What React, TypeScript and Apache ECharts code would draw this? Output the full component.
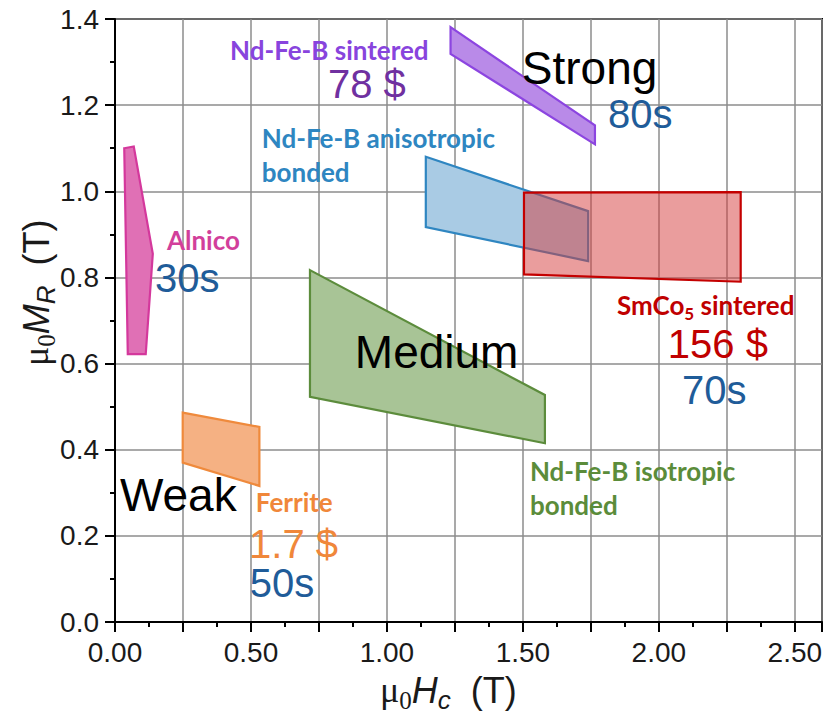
import React, { useEffect, useRef } from "react";
import * as echarts from "echarts";

// Polygon regions (μ0Hc [T], μ0MR [T])
const alnico = [[0.034, 1.100], [0.069, 1.104], [0.139, 0.855], [0.113, 0.622], [0.047, 0.622]];
const ndfebSintered = [[1.234, 1.381], [1.765, 1.153], [1.765, 1.109], [1.234, 1.319]];
const ndfebAniso = [[1.143, 1.080], [1.740, 0.954], [1.740, 0.838], [1.143, 0.917]];
const smco5 = [[1.504, 0.997], [2.301, 0.998], [2.301, 0.790], [1.504, 0.807]];
const ndfebIso = [[0.717, 0.817], [1.581, 0.527], [1.581, 0.415], [0.717, 0.523]];
const ferrite = [[0.249, 0.486], [0.531, 0.453], [0.531, 0.316], [0.249, 0.370]];

// Annotations
const labelTexts = [
  "Nd-Fe-B sintered", "78 $", "Strong", "80s",
  "Nd-Fe-B anisotropic", "bonded",
  "Alnico", "30s",
  "{b|SmCo}{s|5}{b| sintered}", "156 $", "70s",
  "Medium", "Nd-Fe-B isotropic", "bonded",
  "Weak", "Ferrite", "1.7 $", "50s",
];
const labelX = [0.423, 0.783, 1.496, 1.813, 0.540, 0.540, 0.191, 0.147, 1.846, 2.033, 2.085, 0.882, 1.526, 1.526, 0.018, 0.518, 0.493, 0.496];
const labelY = [1.329, 1.248, 1.287, 1.180, 1.123, 1.044, 0.886, 0.798, 0.731, 0.645, 0.538, 0.626, 0.350, 0.271, 0.295, 0.278, 0.182, 0.091];
const labelKind = ["tag", "num", "word", "num", "tag", "tag", "tag", "num", "rich", "num", "num", "word", "tag", "tag", "word", "tag", "num", "num"];
const labelColor = [
  "#8844dd", "#7030a0", "#000000", "#1f5c99",
  "#2e86c1", "#2e86c1",
  "#d23f9b", "#1f5c99",
  "#c00000", "#c00000", "#1f5c99",
  "#000000", "#5b8c3a", "#5b8c3a",
  "#000000", "#f0873a", "#f0873a", "#1f5c99",
];

const polys = [
  { data: ndfebAniso, fill: "#a9cbe4", stroke: "#2f86c1" },
  { data: smco5, fill: "rgba(214,60,60,0.5)", stroke: "#c40000" },
  { data: alnico, fill: "#e070b5", stroke: "#d4389c" },
  { data: ndfebSintered, fill: "#b98ae8", stroke: "#8c45e0" },
  { data: ndfebIso, fill: "#a8c496", stroke: "#5c8c3c" },
  { data: ferrite, fill: "#f5b183", stroke: "#ef8a3c" },
];

const SANS = "'Liberation Sans', Arial, sans-serif";
const SERIF = "'Liberation Serif', 'Times New Roman', serif";
const TAG = "Lato, 'Open Sans', sans-serif";
const INK = "#1a1a1a";

const titleRich = {
  m: { fontFamily: SERIF, fontSize: 36, fill: INK, lineHeight: 41, verticalAlign: "top" },
  z: { fontFamily: SERIF, fontSize: 25, fill: INK, lineHeight: 25, verticalAlign: "bottom" },
  i: { fontFamily: SANS, fontStyle: "italic", fontSize: 36, fill: INK, lineHeight: 41, verticalAlign: "top" },
  c: { fontFamily: SANS, fontStyle: "italic", fontSize: 26, fill: INK, lineHeight: 26, verticalAlign: "bottom" },
  n: { fontFamily: SANS, fontSize: 36, fill: INK, lineHeight: 41, verticalAlign: "top" },
};

export default function App() {
  const ref = useRef<HTMLDivElement>(null);
  useEffect(() => {
    if (!ref.current) return;
    const chart = echarts.init(ref.current, null, { renderer: "svg" });

    const polySeries = polys.map((p) => ({
      type: "custom",
      data: p.data,
      encode: { x: 0, y: 1 },
      silent: true,
      z: 2,
      renderItem: (params: any, api: any) => {
        if (params.dataIndex !== 0) return null;
        const pts = p.data.map((v) => api.coord(v));
        return {
          type: "polygon",
          shape: { points: pts },
          style: { fill: p.fill, stroke: p.stroke, lineWidth: 2.2, lineJoin: "miter" },
        };
      },
    }));

    const textSeries = {
      type: "custom",
      data: labelX.map((x, i) => [x, labelY[i]]),
      encode: { x: 0, y: 1 },
      silent: true,
      z: 5,
      renderItem: (params: any, api: any) => {
        const i = params.dataIndex;
        const pt = api.coord([api.value(0), api.value(1)]);
        const kind = labelKind[i];
        const style: any = {
          text: labelTexts[i],
          fill: labelColor[i],
          align: "left",
          verticalAlign: "middle",
        };
        if (kind === "word") {
          style.font = `46px ${SANS}`;
        } else if (kind === "num") {
          style.font = `40px ${SANS}`;
        } else if (kind === "tag") {
          style.font = `bold 26px ${TAG}`;
        } else {
          style.rich = {
            b: { fontFamily: TAG, fontWeight: "bold", fontSize: 26, fill: labelColor[i], lineHeight: 30, verticalAlign: "top" },
            s: { fontFamily: TAG, fontWeight: "bold", fontSize: 17, fill: labelColor[i], lineHeight: 17, verticalAlign: "bottom" },
          };
        }
        return { type: "text", x: pt[0], y: pt[1], style };
      },
    };

    chart.setOption({
      animation: false,
      backgroundColor: "#ffffff",
      grid: {
        left: 115, right: 8, top: 19, bottom: 93,
        show: true, borderColor: "#000", borderWidth: 2, backgroundColor: "transparent",
      },
      xAxis: {
        type: "value", min: 0, max: 2.6, interval: 0.25,
        axisLine: { show: true, lineStyle: { color: "#000", width: 2 } },
        axisTick: { show: true, length: 10, lineStyle: { color: "#000", width: 2 } },
        minorTick: { show: true, splitNumber: 2, length: 5, lineStyle: { color: "#000", width: 2 } },
        splitLine: { show: true, lineStyle: { color: "#8c8c8c", width: 1.5 } },
        axisLabel: {
          margin: 16, fontSize: 28, color: INK, fontFamily: SANS,
          formatter: (v: number) => (Math.round(v * 100) % 50 === 0 ? v.toFixed(2) : ""),
        },
      },
      yAxis: {
        type: "value", min: 0, max: 1.4, interval: 0.2,
        axisLine: { show: true, lineStyle: { color: "#000", width: 2 } },
        axisTick: { show: true, length: 10, lineStyle: { color: "#000", width: 2 } },
        minorTick: { show: true, splitNumber: 2, length: 5, lineStyle: { color: "#000", width: 2 } },
        splitLine: { show: true, lineStyle: { color: "#8c8c8c", width: 1.5 } },
        axisLabel: {
          margin: 16, fontSize: 28, color: INK, fontFamily: SANS,
          formatter: (v: number) => v.toFixed(1),
        },
      },
      graphic: [
        {
          type: "text", x: 380, y: 672, silent: true,
          style: {
            text: "{m|μ}{z|0}{i|H}{c|c}{n|  (T)}",
            align: "left", verticalAlign: "top",
            rich: titleRich,
          },
        },
        {
          type: "text", x: 18, y: 366, rotation: Math.PI / 2, silent: true,
          style: {
            text: "{m|μ}{z|0}{i|M}{c|R}{n|  (T)}",
            align: "left", verticalAlign: "top",
            rich: titleRich,
          },
        },
      ],
      series: [...polySeries, textSeries],
    });
    return () => chart.dispose();
  }, []);
  return (
    <div
      ref={ref}
      style={{ position: "fixed", left: 0, top: 0, width: 830, height: 715 }}
    />
  );
}
